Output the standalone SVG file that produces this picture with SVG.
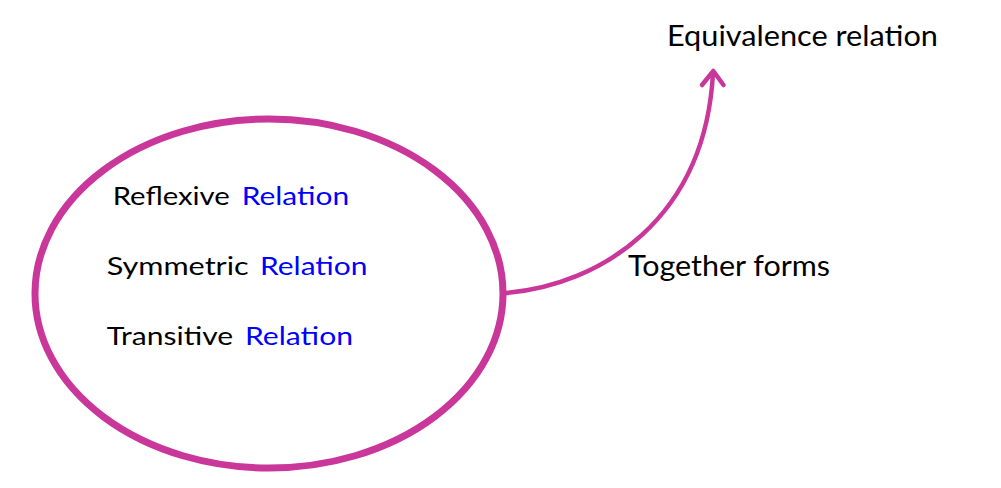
<svg xmlns="http://www.w3.org/2000/svg" width="1001" height="488" viewBox="0 0 1001 488">
<style>
.t{font-family:Lato,"Open Sans","Liberation Sans",sans-serif;fill:#000}
.b{fill:#0000FF}
.in{font-size:25.5px}
.out{font-size:29px}
.ln{fill:none;stroke:#C9379A;stroke-linecap:round;stroke-linejoin:round}
</style>
<rect width="1001" height="488" fill="#fff"/>
<g id="set">
<ellipse class="ln" cx="269" cy="293.5" rx="234" ry="174.5" stroke-width="7"/>
<text class="t in" x="112.7" y="204.5" textLength="117" lengthAdjust="spacingAndGlyphs">Reflexive</text>
<text class="t in b" x="241.7" y="204.5" textLength="107.5" lengthAdjust="spacingAndGlyphs">Relation</text>
<text class="t in" x="106.7" y="275" textLength="142" lengthAdjust="spacingAndGlyphs">Symmetric</text>
<text class="t in b" x="260" y="275" textLength="107.5" lengthAdjust="spacingAndGlyphs">Relation</text>
<text class="t in" x="106.7" y="345" textLength="126.5" lengthAdjust="spacingAndGlyphs">Transitive</text>
<text class="t in b" x="245" y="345" textLength="108" lengthAdjust="spacingAndGlyphs">Relation</text>
</g>
<g id="equivalence">
<text class="t out" x="667" y="45.5" textLength="271" lengthAdjust="spacingAndGlyphs">Equivalence relation</text>
</g>
<g id="connectors">
<path class="ln" stroke-width="4.5" d="M506,293 C600,285 705,220 713,73"/>
<polyline class="ln" stroke-width="4.5" points="702,85 713.3,71 723.5,85"/>
<text class="t" style="font-size:28px" x="628" y="275.5" textLength="202" lengthAdjust="spacingAndGlyphs">Together forms</text>
</g>
</svg>
